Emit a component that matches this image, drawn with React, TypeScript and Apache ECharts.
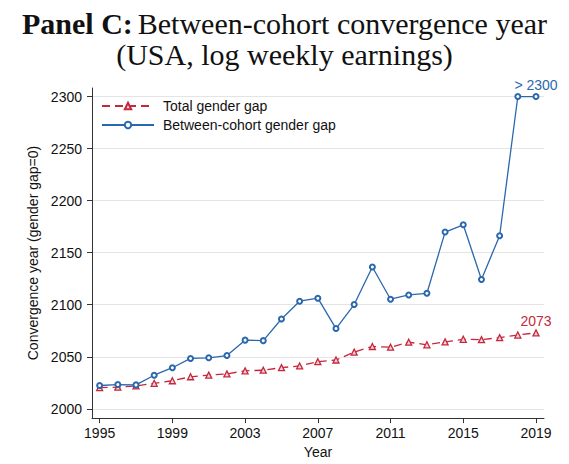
import React, { useEffect, useRef } from "react";
import * as echarts from "echarts";

const years = [1995,1996,1997,1998,1999,2000,2001,2002,2003,2004,2005,2006,2007,2008,2009,2010,2011,2012,2013,2014,2015,2016,2017,2018,2019];
const totalGap = [2020.3,2020.8,2022.0,2024.5,2027.0,2030.8,2032.4,2033.6,2036.5,2037.1,2039.6,2041.2,2045.3,2046.9,2054.5,2059.9,2059.2,2064.0,2061.5,2064.3,2066.8,2066.5,2068.4,2070.9,2073];
const betweenGap = [2022.4,2023.3,2023.0,2032.3,2039.5,2048.4,2049.0,2051.2,2066.0,2065.5,2086.3,2103.4,2106.3,2077.1,2100.2,2136.2,2105.3,2109.4,2111.0,2169.8,2176.8,2124.3,2166.3,2300,2300];
const xTicks = [1995,1999,2003,2007,2011,2015,2019];
const yTicks = [2000,2050,2100,2150,2200,2250,2300];
const totalEndLabel = "2073";
const betweenEndLabel = "> 2300";

const BLUE = "#2b67ad";
const RED = "#c5283d";
const SANS = "'Liberation Sans', Arial, sans-serif";
const SERIF = "'Liberation Serif', 'Times New Roman', serif";

export default function App() {
  const ref = useRef<HTMLDivElement>(null);
  useEffect(() => {
    if (!ref.current) return;
    const chart = echarts.init(ref.current, null, { renderer: "svg" });
    const mk = (vals: number[], lbl: string, color: string) =>
      vals.map((v, i) =>
        i === vals.length - 1
          ? { value: [years[i], v], label: { show: true, formatter: lbl, position: "top", distance: 1, color, fontSize: 14, fontFamily: SANS } }
          : { value: [years[i], v] }
      );
    chart.setOption({
      animation: false,
      backgroundColor: "#ffffff",
      title: {
        left: "center",
        top: 3,
        text: "{b|Panel C:} {n|Between-cohort convergence year}\n{n|(USA, log weekly earnings)}",
        textStyle: {
          fontWeight: "normal",
          rich: {
            b: { fontFamily: SERIF, fontSize: 30, fontWeight: "bold", color: "#111", lineHeight: 31 },
            n: { fontFamily: SERIF, fontSize: 30, fontWeight: "normal", color: "#111", lineHeight: 31 },
          },
        },
      },
      legend: {
        orient: "vertical",
        left: 101,
        top: 99,
        padding: 0,
        itemWidth: 52,
        itemHeight: 8,
        itemGap: 5,
        textStyle: { fontFamily: SANS, fontSize: 14, color: "#111", padding: [0, 0, 0, 4] },
        data: ["Total gender gap", "Between-cohort gender gap"],
      },
      grid: { left: 92, right: 25, top: 88, bottom: 41, containLabel: false },
      xAxis: {
        type: "value",
        min: 1994.58,
        max: 2019.44,
        name: "Year",
        nameLocation: "middle",
        nameGap: 22,
        nameTextStyle: { fontFamily: SANS, fontSize: 14, color: "#111" },
        axisLine: { show: true, lineStyle: { color: "#333", width: 1 } },
        axisTick: { show: true, length: 5, customValues: xTicks, lineStyle: { color: "#333" } },
        axisLabel: { customValues: xTicks, margin: 8, fontFamily: SANS, fontSize: 14, color: "#111", formatter: (v: number) => String(v) },
        splitLine: { show: false },
      },
      yAxis: {
        type: "value",
        min: 1991.1,
        max: 2308.2,
        name: "Convergence year (gender gap=0)",
        nameLocation: "middle",
        nameGap: 47,
        nameTextStyle: { fontFamily: SANS, fontSize: 14, color: "#111" },
        axisLine: { show: true, lineStyle: { color: "#333", width: 1 } },
        axisTick: { show: true, length: 5, customValues: yTicks, lineStyle: { color: "#333" } },
        axisLabel: { customValues: yTicks, margin: 10, fontFamily: SANS, fontSize: 14, color: "#111", formatter: (v: number) => String(v) },
        splitLine: { show: true, lineStyle: { color: "#e4e4e4", width: 1 } },
      },
      series: [
        {
          name: "Total gender gap",
          type: "line",
          data: mk(totalGap, totalEndLabel, RED),
          symbol: "triangle",
          symbolSize: 6,
          showAllSymbol: true,
          itemStyle: { color: "#f3d3d8", borderColor: RED, borderWidth: 1.3 },
          lineStyle: { color: RED, width: 1.3, type: [8, 5] },
          z: 2,
        },
        {
          name: "Between-cohort gender gap",
          type: "line",
          data: mk(betweenGap, betweenEndLabel, BLUE),
          symbol: "emptyCircle",
          symbolSize: 5,
          showAllSymbol: true,
          itemStyle: { color: BLUE, borderColor: BLUE, borderWidth: 1.2 },
          lineStyle: { color: BLUE, width: 1.3 },
          z: 3,
        },
      ],
    });
    return () => chart.dispose();
  }, []);
  return <div ref={ref} style={{ width: 569, height: 464, position: "absolute", left: 0, top: 0 }} />;
}
